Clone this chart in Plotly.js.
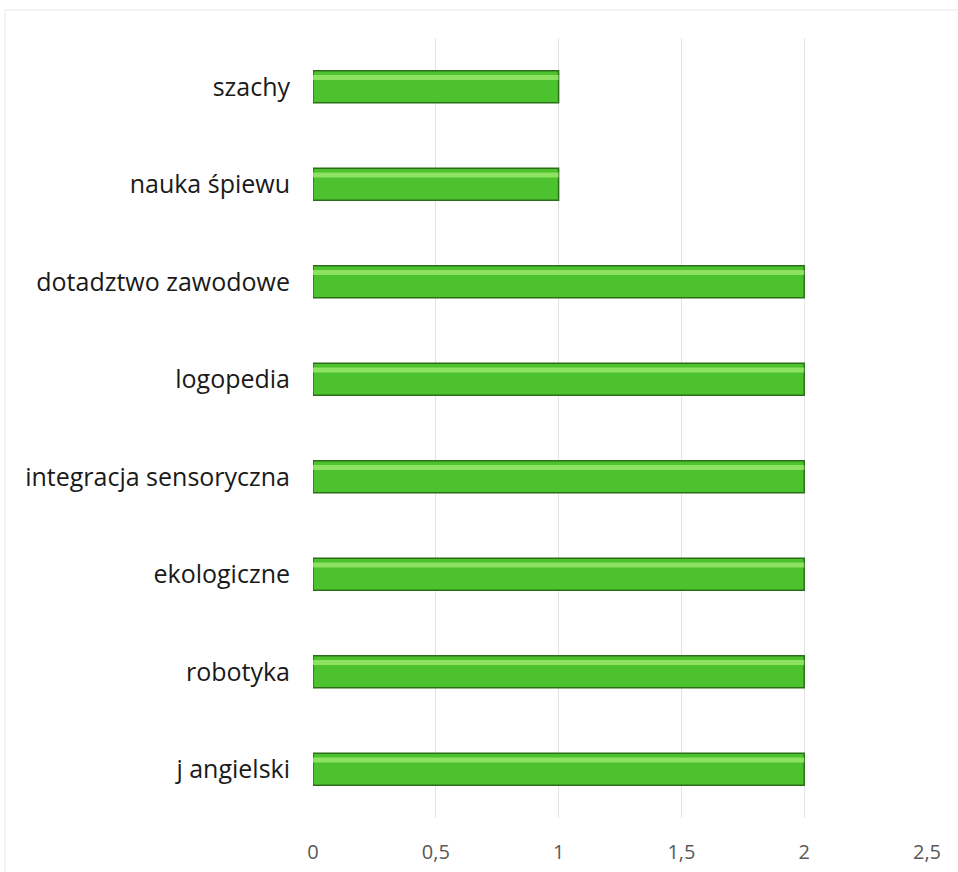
<!DOCTYPE html>
<html>
<head>
<meta charset="utf-8">
<script src="https://cdn.plot.ly/plotly-3.0.1.min.js"></script>
<style>html,body{margin:0;padding:0;background:#fff;}#chart{width:958px;height:872px;}</style>
</head>
<body>
<div id="chart"></div>
<script>
const categories = ["szachy", "nauka śpiewu", "dotadztwo zawodowe", "logopedia", "integracja sensoryczna", "ekologiczne", "robotyka", "j angielski"];
const values = [1, 1, 2, 2, 2, 2, 2, 2];
const tickValues = [0, 0.5, 1, 1.5, 2, 2.5];
const tickLabels = ["0", "0,5", "1", "1,5", "2", "2,5"];

const barTrace = {
  type: 'bar',
  orientation: 'h',
  y: categories,
  x: values,
  width: 0.33,
  marker: {color: '#4cc22e', line: {color: '#2b6e18', width: 1.5}},
  hoverinfo: 'x+y'
};
// light bevel highlight drawn from the same values
const highlightTrace = {
  type: 'bar',
  orientation: 'h',
  y: categories,
  x: values,
  width: 0.05,
  offset: -0.12,
  marker: {color: 'rgba(170,240,120,0.7)', line: {width: 0}},
  hoverinfo: 'skip'
};

const layout = {
  width: 958, height: 872,
  margin: {l: 313, r: 31, t: 38, b: 54},
  paper_bgcolor: '#fff', plot_bgcolor: '#fff',
  font: {family: '"Open Sans", Lato, sans-serif'},
  showlegend: false,
  barmode: 'overlay',
  xaxis: {
    range: [0, 2.5], tickvals: tickValues, ticktext: tickLabels,
    showgrid: true, gridcolor: '#e3e3e3', gridwidth: 1,
    zeroline: false, showline: false, ticks: '',
    tickfont: {size: 20, color: '#595959'},
    ticklabelstandoff: 20, fixedrange: true
  },
  yaxis: {
    type: 'category', autorange: 'reversed',
    showgrid: false, zeroline: false, showline: false, ticks: '',
    tickfont: {size: 25, color: '#1a1a1a'},
    ticklabelstandoff: 22, fixedrange: true
  },
  shapes: [{
    type: 'rect', xref: 'paper', yref: 'paper',
    x0: -0.5016, x1: 1.06, y0: -0.1, y1: 1.0359,
    line: {color: '#e8e8e8', width: 1}, layer: 'below'
  }]
};

Plotly.newPlot('chart', [barTrace, highlightTrace], layout, {displayModeBar: false, staticPlot: true});
</script>
</body>
</html>
